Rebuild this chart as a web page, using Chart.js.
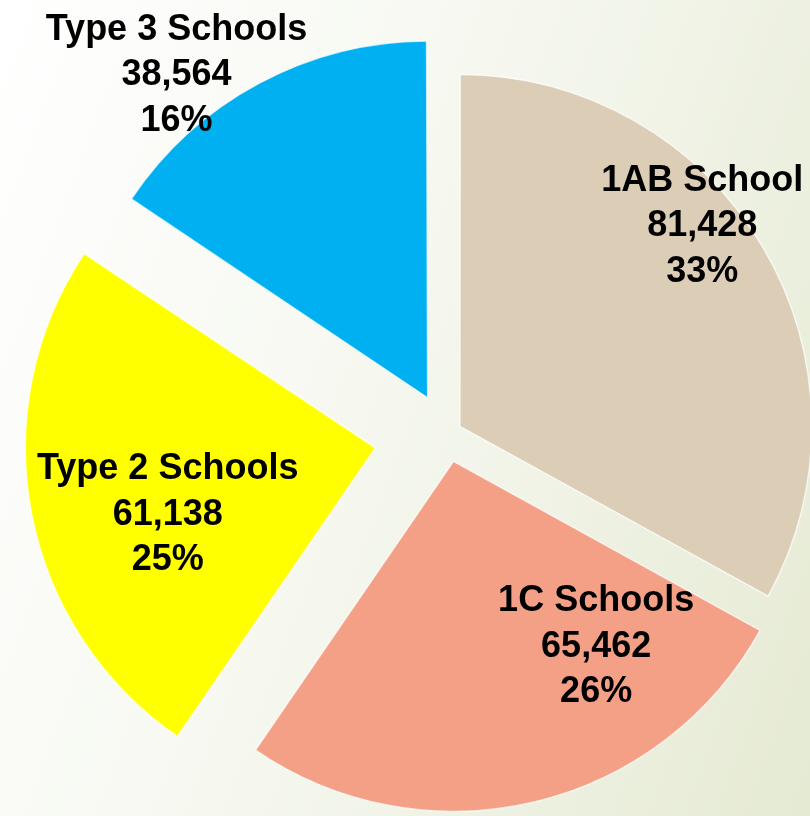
<!DOCTYPE html>
<html>
<head>
<meta charset="utf-8">
<script src="https://cdn.jsdelivr.net/npm/chart.js@4.4.1/dist/chart.umd.min.js"></script>
<style>
    html, body { margin: 0; padding: 0; width: 810px; height: 816px; overflow: hidden; }
    body { background: linear-gradient(110deg, #ffffff 0%, #f6f8f0 45%, #e5ead3 100%); }
    #contenedor { position: absolute; left: 0; top: 0; width: 894px; height: 868px; }
</style>
</head>
<body>
<div id="contenedor"><canvas id="grafico"></canvas></div>
<script>
let categorias = ["1AB School", "1C Schools", "Type 2 Schools", "Type 3 Schools"];
let valores = [81428, 65462, 61138, 38564];
let porcentajes = ["33%", "26%", "25%", "16%"];

let colores = ["#DCCDB6", "#F3A087", "#FFFF00", "#00B0F0"];
// Chart.js v4 desplaza cada porción offset/4 píxeles
let separacion = [60, 112, 292, 164];

// etiquetas: ángulo (grados desde arriba, sentido horario) y distancia en radios
let etiquetasPos = [
    { angulo: 52.2, dist: 0.923 },
    { angulo: 146.2, dist: 0.766 },
    { angulo: 252.0, dist: 0.839 },
    { angulo: 322.2, dist: 1.261 }
];

const pluginEtiquetas = {
    id: "etiquetas",
    afterDatasetsDraw(chart) {
        let ctx = chart.ctx;
        let meta = chart.getDatasetMeta(0);
        ctx.save();
        ctx.font = "bold 36px 'Liberation Sans', Arial, sans-serif";
        ctx.fillStyle = "#000000";
        ctx.textAlign = "center";
        ctx.textBaseline = "alphabetic";
        meta.data.forEach((arc, i) => {
            let p = etiquetasPos[i];
            let a = (p.angulo - 90) * Math.PI / 180;
            let x = arc.x + Math.cos(a) * p.dist * arc.outerRadius;
            let y = arc.y + Math.sin(a) * p.dist * arc.outerRadius;
            let lineas = [categorias[i], valores[i].toLocaleString("en-US"), porcentajes[i]];
            lineas.forEach((texto, j) => {
                ctx.fillText(texto, x, y + (j - 1) * 45.5);
            });
        });
        ctx.restore();
    }
};

let ctx = document.getElementById("grafico").getContext("2d");
new Chart(ctx, {
    type: "pie",
    data: {
        labels: categorias,
        datasets: [{
            data: valores,
            backgroundColor: colores,
            borderColor: "rgba(255, 255, 255, 0.7)",
            borderWidth: 1.5,
            offset: separacion,
            hoverOffset: 0
        }]
    },
    options: {
        responsive: true,
        maintainAspectRatio: false,
        animation: false,
        radius: 350,
        layout: { padding: 0 },
        plugins: {
            legend: { display: false },
            tooltip: { enabled: false }
        }
    },
    plugins: [pluginEtiquetas]
});
</script>
</body>
</html>
